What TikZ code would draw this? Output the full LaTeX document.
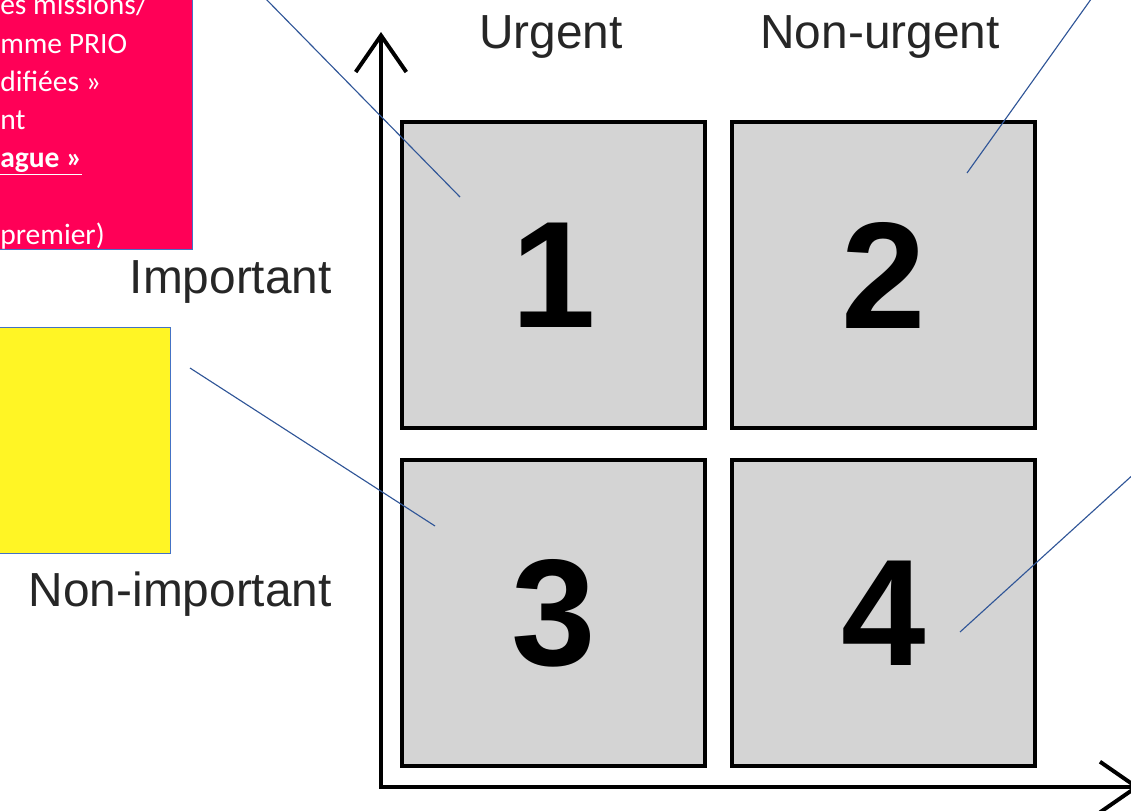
\documentclass[tikz,border=0pt]{standalone}
\usepackage{fontspec}
\setmainfont{Liberation Sans}
\newfontfamily\calibri{Carlito}
\usepackage{tikz}
\usetikzlibrary{arrows.meta,
                    positioning}
\definecolor{rosevif}{RGB}{255,0,87}
\definecolor{jaunevif}{RGB}{255,245,37}
\definecolor{bordbleu}{RGB}{68,114,196}
\definecolor{lienbleu}{RGB}{47,85,151}
\definecolor{gris}{RGB}{212,212,212}

\begin{document}
\begin{tikzpicture}[
            x=0.025cm, y=-0.025cm,
            quad/.style={
              draw=black,
              fill=gris,
              line width=2.8pt,
              minimum width=7.58cm,
              minimum height=7.65cm,
              inner sep=0pt,
              font=\fontsize{108}{108}\selectfont\bfseries
            },
            lbl/.style={
              inner sep=0pt,
              text=black!85,
              font=\fontsize{34}{40}\selectfont
            },
            boite/.style={
              draw=bordbleu,
              line width=0.6pt,
              inner sep=0pt
            },
            axe/.style={
              line width=2.8pt,
              >={Straight Barb[length=26pt,width=36pt]},
              <->
            },
            lien/.style={
              draw=lienbleu,
              line width=0.8pt
            }
            ]
            \useasboundingbox (0,0) rectangle (1131,810);
            \clip (0,0) rectangle (1131,810);

            % callout boxes
            \node[boite,fill=rosevif,anchor=south east,minimum width=5cm,minimum height=6.5cm] 
              (rose) at (193,250) {};
            \node[anchor=north west,inner sep=0pt,align=left,text=white,
                  font=\calibri\fontsize{21}{27.2}\selectfont] 
              (txt) at (0,-6) {es missions/\\mme PRIO\\difiées »\\nt\\
                               \textbf{\underline{ague »}}\\ ~ \\premier)};
            \node[boite,fill=jaunevif,anchor=north east,minimum width=4.5cm,minimum height=5.65cm] 
              (jaune) at (171,327) {};

            % matrix
            \node[quad] at (553.5,275) (q1) {1};
            \node[quad,right=0.575cm of q1] (q2) {2};
            \node[quad,below=0.7cm of q1] (q3) {3};
            \node[quad,right=0.575cm of q3] (q4) {4};

            % axes
            \coordinate (ytop) at (381,32);
            \coordinate (orig) at (381,787);
            \coordinate (xend) at (1140,787);
            \draw[axe] (ytop) -- (orig) -- (xend);

            \node[lbl,anchor=base] at (551,48) (urg) {Urgent};
            \node[lbl,anchor=base] at (880,48) (nurg) {Non-urgent};
            \node[lbl,anchor=base east] at (332,293) (imp) {Important};
            \node[lbl,anchor=base east] at (332,606) (nimp) {Non-important};

            % connectors
            \coordinate (f1) at (262,-5);
            \coordinate (p1) at (460,197);
            \coordinate (f2) at (1094,-5);
            \coordinate (p2) at (967,173);
            \coordinate (f3) at (190,368);
            \coordinate (p3) at (435,526);
            \coordinate (f4) at (1136,472);
            \coordinate (p4) at (960,632);
            \foreach \i in {1,...,4}
              \draw[lien] (f\i) -- (p\i);
        \end{tikzpicture}
\end{document}
